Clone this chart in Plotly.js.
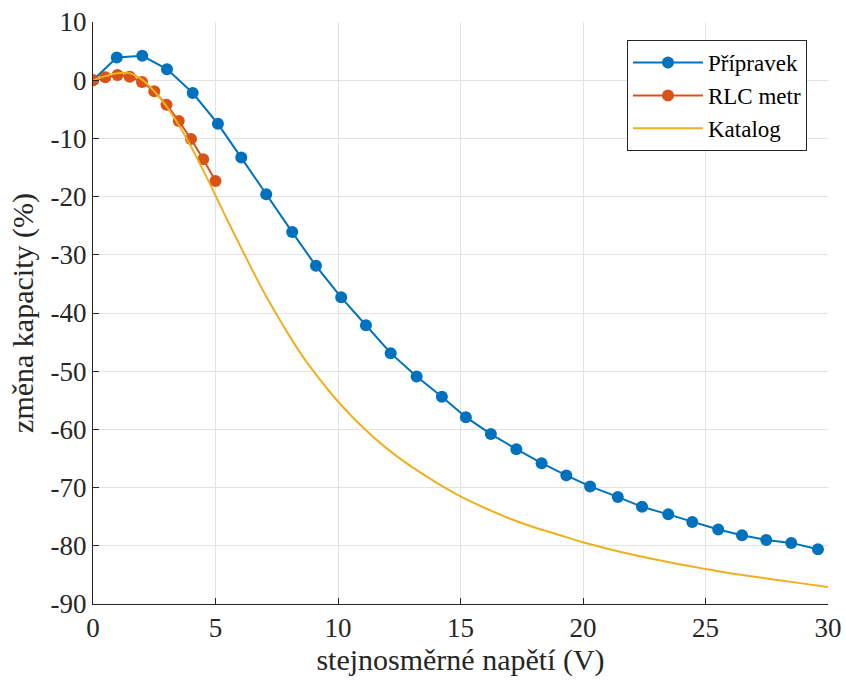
<!DOCTYPE html>
<html>
<head>
<meta charset="utf-8">
<script src="https://cdn.plot.ly/plotly-3.0.1.min.js"></script>
<style>html,body{margin:0;padding:0;background:#fff;}#chart{width:846px;height:680px;}</style>
</head>
<body>
<div id="chart"></div>
<script>
// Přípravek (measured on fixture)
const pripravekX = [0, 0.97, 2.01, 3.02, 4.07, 5.1, 6.05, 7.07, 8.13, 9.10, 10.13, 11.14, 12.15, 13.21, 14.24, 15.22, 16.24, 17.28, 18.31, 19.32, 20.29, 21.42, 22.41, 23.48, 24.46, 25.52, 26.49, 27.48, 28.5, 29.59];
const pripravekY = [0, 3.9, 4.2, 1.9, -2.2, -7.5, -13.3, -19.6, -26.1, -31.9, -37.3, -42.1, -46.9, -50.9, -54.4, -57.9, -60.8, -63.4, -65.8, -67.9, -69.8, -71.6, -73.3, -74.6, -75.9, -77.2, -78.2, -79.0, -79.5, -80.6];
// RLC metr
const rlcX = [0, 0.5, 1, 1.5, 2, 2.5, 3, 3.5, 4, 4.5, 5];
const rlcY = [0, 0.5, 0.9, 0.6, -0.3, -1.9, -4.2, -7.0, -10.1, -13.6, -17.3];
// Katalog
const katalogX = [0, 0.5, 1, 1.5, 2, 2.5, 3, 3.5, 4, 4.5, 5, 5.5, 6, 6.5, 7, 7.5, 8, 8.5, 9, 9.5, 10, 11, 12, 13, 14, 15, 16, 17, 18, 19, 20, 21, 22, 23, 24, 25, 26, 27, 28, 29, 30];
const katalogY = [0, 0.7, 1.2, 1.2, 0.1, -1.9, -4.5, -7.7, -11.4, -15.5, -19.8, -24.2, -28.4, -32.6, -36.6, -40.3, -43.8, -47.1, -50.0, -52.7, -55.2, -59.6, -63.3, -66.4, -69.1, -71.5, -73.5, -75.3, -76.8, -78.1, -79.4, -80.5, -81.5, -82.4, -83.2, -84.0, -84.7, -85.3, -85.9, -86.5, -87.1];
// Ticks
const xTicks = [0, 5, 10, 15, 20, 25, 30];
const yTicks = [10, 0, -10, -20, -30, -40, -50, -60, -70, -80, -90];
const yTickText = yTicks.map(v => String(v));

const font = "'Liberation Serif', 'Times New Roman', serif";
const axisCol = '#262626';

const traces = [
  {x: pripravekX, y: pripravekY, name: 'Přípravek', type: 'scatter', mode: 'lines+markers',
   line: {color: '#0072BD', width: 2}, marker: {color: '#0072BD', size: 12}},
  {x: rlcX, y: rlcY, name: 'RLC metr', type: 'scatter', mode: 'lines+markers',
   line: {color: '#D95319', width: 2}, marker: {color: '#D95319', size: 12}},
  {x: katalogX, y: katalogY, name: 'Katalog', type: 'scatter', mode: 'lines',
   line: {color: '#EDB120', width: 2, shape: 'spline'}}
];

const layout = {
  width: 846, height: 680,
  margin: {l: 93, r: 18, t: 22, b: 76},
  paper_bgcolor: '#fff', plot_bgcolor: '#fff',
  font: {family: font, size: 24, color: axisCol},
  showlegend: true,
  legend: {x: 0.7265, y: 0.969, xanchor: 'left', yanchor: 'top',
    bgcolor: '#fff', bordercolor: axisCol, borderwidth: 1,
    font: {family: font, size: 23, color: '#000'}, tracegroupgap: 0, itemwidth: 70},
  xaxis: {range: [0, 30], tickvals: xTicks, ticktext: xTicks.map(String),
    showgrid: true, gridcolor: '#e3e3e3', gridwidth: 1, zeroline: false,
    showline: true, linecolor: axisCol, linewidth: 1, ticks: 'inside', ticklen: 6, tickcolor: axisCol,
    tickfont: {family: font, size: 27, color: axisCol},
    title: {text: 'stejnosměrné napětí (V)', font: {family: font, size: 30, color: axisCol}, standoff: 4}},
  yaxis: {range: [-90, 10], tickvals: yTicks, ticktext: yTickText,
    showgrid: true, gridcolor: '#e3e3e3', gridwidth: 1, zeroline: false,
    showline: true, linecolor: axisCol, linewidth: 1, ticks: 'inside', ticklen: 6, tickcolor: axisCol,
    tickfont: {family: font, size: 27, color: axisCol},
    title: {text: 'změna kapacity (%)', font: {family: font, size: 30, color: axisCol}, standoff: 8}}
};

Plotly.newPlot('chart', traces, layout, {displayModeBar: false, staticPlot: true});
</script>
</body>
</html>
